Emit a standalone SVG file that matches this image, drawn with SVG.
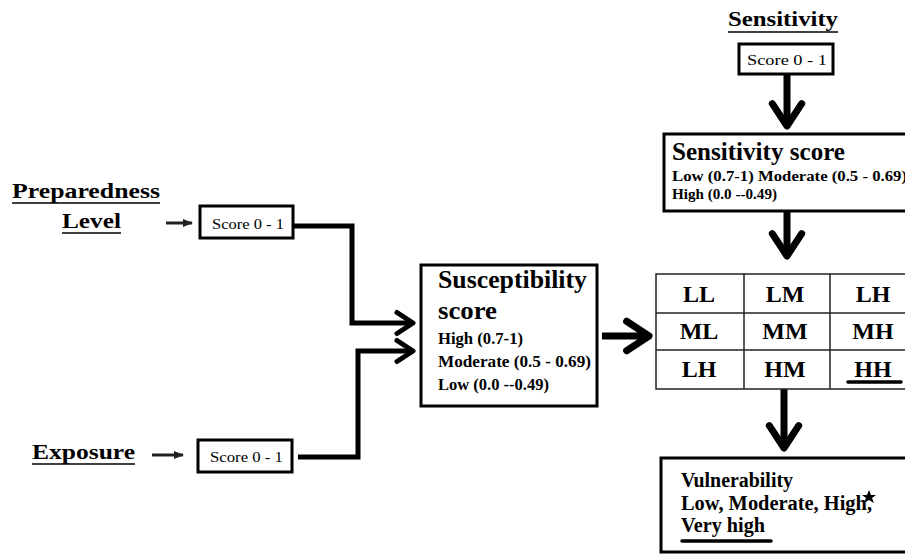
<svg xmlns="http://www.w3.org/2000/svg" width="905" height="554" viewBox="0 0 905 554">
<defs>
<style>
.t{font-family:"Liberation Serif","Times New Roman",serif;fill:#000}
.b{font-weight:bold}
.box{fill:#fff;stroke:#000;stroke-width:3}
.grid{fill:none;stroke:#222;stroke-width:1.5}
.con{fill:none;stroke:#000;stroke-width:5;stroke-linejoin:miter}
.big{fill:none;stroke:#000;stroke-width:7}
.thin{fill:none;stroke:#222;stroke-width:3}
.ul{stroke:#000;stroke-width:1.5}
</style>
<marker id="chev" viewBox="-4 -3 5 6" markerWidth="5" markerHeight="6" refX="0" refY="0" orient="auto">
<path d="M-3.2,-2.1 L0,0 L-3.2,2.1" fill="none" stroke="#000" stroke-width="1" stroke-linecap="round" stroke-linejoin="round"/>
</marker>
<marker id="tri" viewBox="0 -5 10 10" markerWidth="10" markerHeight="10" markerUnits="userSpaceOnUse" refX="9" refY="0" orient="auto">
<path d="M0,-4 L10,0 L0,4 z" fill="#222"/>
</marker>
</defs>
<rect width="905" height="554" fill="#fff"/>

<g id="connectors">
<path class="thin" d="M166,223 H192" marker-end="url(#tri)"/>
<path class="thin" d="M152,455 H183" marker-end="url(#tri)"/>
<path class="con" d="M293,226 H352 V323 H413" marker-end="url(#chev)"/>
<path class="con" d="M298,457 H358 V351 H413" marker-end="url(#chev)"/>
<path class="big" d="M602,336 H649" marker-end="url(#chev)"/>
<path class="big" d="M787,74 V126" marker-end="url(#chev)"/>
<path class="big" d="M787,211 V256" marker-end="url(#chev)"/>
<path class="big" d="M784,389 V448" marker-end="url(#chev)"/>
</g>

<g id="preparedness-label">
<text class="t b" x="12" y="198" font-size="22" textLength="148" lengthAdjust="spacingAndGlyphs">Preparedness</text>
<line class="ul" x1="12" y1="203" x2="160" y2="203"/>
<text class="t b" x="62" y="228" font-size="22" textLength="59" lengthAdjust="spacingAndGlyphs">Level</text>
<line class="ul" x1="62" y1="233" x2="121" y2="233"/>
</g>

<g id="preparedness-score">
<rect class="box" x="200" y="206" width="93" height="32"/>
<text class="t" x="212" y="229" font-size="15" textLength="72" lengthAdjust="spacingAndGlyphs">Score 0 - 1</text>
</g>

<g id="exposure-label">
<text class="t b" x="32" y="459" font-size="22" textLength="103" lengthAdjust="spacingAndGlyphs">Exposure</text>
<line class="ul" x1="32" y1="464" x2="135" y2="464"/>
</g>

<g id="exposure-score">
<rect class="box" x="198" y="440" width="94" height="32"/>
<text class="t" x="210" y="462" font-size="15" textLength="73" lengthAdjust="spacingAndGlyphs">Score 0 - 1</text>
</g>

<g id="susceptibility">
<rect class="box" x="421" y="265" width="176" height="141" stroke-width="3.5"/>
<text class="t b" x="438" y="288" font-size="25" textLength="149" lengthAdjust="spacingAndGlyphs">Susceptibility</text>
<text class="t b" x="438" y="319" font-size="25" textLength="59" lengthAdjust="spacingAndGlyphs">score</text>
<text class="t b" x="438" y="344" font-size="16" textLength="85" lengthAdjust="spacingAndGlyphs">High (0.7-1)</text>
<text class="t b" x="438" y="367" font-size="16" textLength="153" lengthAdjust="spacingAndGlyphs">Moderate (0.5 - 0.69)</text>
<text class="t b" x="438" y="390" font-size="16" textLength="111" lengthAdjust="spacingAndGlyphs">Low (0.0 --0.49)</text>
</g>

<g id="sensitivity-label">
<text class="t b" x="728" y="26" font-size="22" textLength="110" lengthAdjust="spacingAndGlyphs">Sensitivity</text>
<line class="ul" x1="728" y1="32" x2="838" y2="32"/>
</g>

<g id="sensitivity-input">
<rect class="box" x="739" y="44" width="94" height="30"/>
<text class="t" x="747" y="65" font-size="15" textLength="80" lengthAdjust="spacingAndGlyphs">Score 0 - 1</text>
</g>

<g id="sensitivity-score">
<rect class="box" x="664" y="134" width="250" height="77"/>
<text class="t b" x="672" y="160" font-size="25" textLength="173" lengthAdjust="spacingAndGlyphs">Sensitivity score</text>
<text class="t b" x="672" y="181" font-size="15" textLength="235" lengthAdjust="spacingAndGlyphs">Low (0.7-1) Moderate (0.5 - 0.69)</text>
<text class="t b" x="672" y="199" font-size="15" textLength="105" lengthAdjust="spacingAndGlyphs">High (0.0 --0.49)</text>
</g>

<g id="matrix">
<rect class="grid" x="656" y="274" width="270" height="115"/>
<line class="grid" x1="656" y1="313" x2="926" y2="313"/>
<line class="grid" x1="656" y1="350" x2="926" y2="350"/>
<line class="grid" x1="744" y1="274" x2="744" y2="389"/>
<line class="grid" x1="830" y1="274" x2="830" y2="389"/>
<g class="t b" font-size="24" text-anchor="middle">
<text x="699" y="302">LL</text>
<text x="785" y="302">LM</text>
<text x="873" y="302">LH</text>
<text x="699" y="339">ML</text>
<text x="785" y="339">MM</text>
<text x="873" y="339">MH</text>
<text x="699" y="377">LH</text>
<text x="785" y="377">HM</text>
<text x="873" y="377">HH</text>
</g>
<line x1="848" y1="382" x2="901" y2="382" stroke="#000" stroke-width="3.5" stroke-linecap="round"/>
</g>

<g id="vulnerability">
<rect class="box" x="661" y="458" width="260" height="94"/>
<text class="t b" x="681" y="487" font-size="20" textLength="112" lengthAdjust="spacingAndGlyphs">Vulnerability</text>
<text class="t b" x="681" y="510" font-size="20" textLength="191" lengthAdjust="spacingAndGlyphs">Low, Moderate, High,</text>
<text class="t b" x="681" y="532" font-size="20" textLength="84" lengthAdjust="spacingAndGlyphs">Very high</text>
<line x1="682" y1="541" x2="771" y2="541" stroke="#000" stroke-width="3.5" stroke-linecap="round"/>
<polygon points="869,490 871,495 876,495 872,498 874,503 869,500 864,503 866,498 862,495 867,495" fill="#000"/>
</g>
</svg>
